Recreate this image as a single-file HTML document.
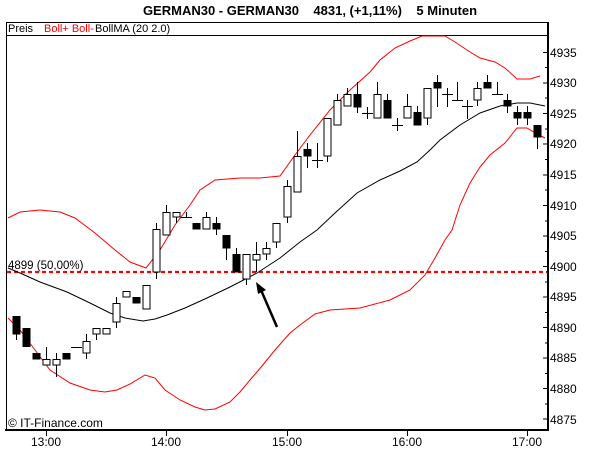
<!DOCTYPE html>
<html><head><meta charset="utf-8"><style>
html,body{margin:0;padding:0;background:#fff;width:600px;height:450px;overflow:hidden}
svg text{font-family:"Liberation Sans","DejaVu Sans",sans-serif}
</style></head><body>
<svg width="600" height="450" viewBox="0 0 600 450" xmlns="http://www.w3.org/2000/svg">
<text x="310" y="15" text-anchor="middle" font-size="13" font-weight="bold" xml:space="preserve">GERMAN30 - GERMAN30    4831, (+1,11%)    5 Minuten</text>
<!-- frame -->
<line x1="6" y1="22.5" x2="548" y2="22.5" stroke="#000"/>
<line x1="6" y1="35.5" x2="548" y2="35.5" stroke="#000"/>
<line x1="6.5" y1="22" x2="6.5" y2="431" stroke="#000"/>
<line x1="5" y1="430" x2="549" y2="430" stroke="#000" stroke-width="2"/>
<line x1="548" y1="22" x2="548" y2="431" stroke="#000" stroke-width="2"/>
<text x="8" y="32" font-size="11">Preis</text>
<text x="44" y="32" font-size="11" fill="#f00">Boll+ Boll-</text>
<text x="95" y="32" font-size="11">BollMA (20 2.0)</text>
<!-- y axis -->
<g font-size="12" fill="#000" stroke="none">
<text x="550" y="57">4935</text><text x="550" y="87">4930</text><text x="550" y="118">4925</text><text x="550" y="148">4920</text><text x="550" y="179">4915</text><text x="550" y="210">4910</text><text x="550" y="240">4905</text><text x="550" y="271">4900</text><text x="550" y="301">4895</text><text x="550" y="332">4890</text><text x="550" y="362">4885</text><text x="550" y="393">4880</text><text x="550" y="424">4875</text>
</g>
<g stroke="#000">
<path d="M543 52.5H548M543 83H548M543 113.5H548M543 144H548M543 175H548M543 205.5H548M543 236H548M543 266.5H548M543 297H548M543 327.5H548M543 358H548M543 388.5H548M543 419H548"/>
<path d="M545 67.5H548M545 98H548M545 129H548M545 159.5H548M545 190H548M545 221H548M545 251.5H548M545 282H548M545 312.5H548M545 343H548M545 373.5H548M545 404H548"/>
<path d="M46.5 430V436M166.5 430V436M287.5 430V436M407.5 430V436M527.5 430V436"/>
</g>
<g font-size="12" text-anchor="middle">
<text x="46" y="446">13:00</text><text x="166" y="446">14:00</text><text x="287" y="446">15:00</text><text x="407" y="446">16:00</text><text x="527" y="446">17:00</text>
</g>
<text x="8" y="427" font-size="12">© IT-Finance.com</text>
<!-- 4899 line -->
<line x1="7" y1="272" x2="547" y2="272" stroke="#f00" stroke-width="2.2" stroke-dasharray="4,3"/>
<text x="8" y="269" font-size="11.5">4899 (50,00%)</text>
<!-- bands -->
<g fill="none" stroke-width="1">
<polyline stroke="#f00" points="8,218 20,212 40,210 60,212 75,218 95,233 115,250 130,262 146,268 160,250 175,225 190,205 200,190 215,180 240,178 260,178 280,176 295,155 310,135 330,110 350,90 370,72 380,60 395,48 410,41 422,36 445,36 455,42 470,52 480,58 495,62 505,68 517,79 530,79 540,76"/>
<polyline stroke="#f00" points="8,318 20,330 35,350 50,370 70,383 90,390 105,392 117,390 130,384 145,375 155,378 165,390 180,400 195,407 205,410 215,409 230,402 240,392 250,380 262,366 275,350 290,333 300,325 315,314 330,310 360,308 390,300 410,290 425,275 435,258 445,240 452,230 460,205 470,183 480,167 490,155 505,143 517,128 527,128 537,134 545,138"/>
<polyline stroke="#000" points="8,268 20,273 40,282 67,292 90,303 110,313 125,318 143,321 155,319 167,315 185,308 207,298 230,287 257,273 280,258 300,242 317,230 335,213 357,193 380,180 400,171 417,162 430,150 440,140 460,125 480,113 500,106 517,103 530,103 545,106"/>
</g>
<!-- candles -->
<g stroke="#000" stroke-width="1">
<path d="M16.5 316V340M26.5 328V347M36.5 353V359M46.5 347V365M56.5 353V377M66.5 353V359M86.5 334V359M96.5 328V340M106.5 328V334M116.5 297V328M126.5 291V297M136.5 297V303M146.5 285V309M156.5 223V279M166.5 205V235M176.5 212V223M186.5 212V217M196.5 223V229M206.5 212V229M216.5 217V235M226.5 235V260M236.5 248V272M246.5 254V285M256.5 242V272M266.5 242V260M276.5 223V248M287.5 180V223M297.5 131V192M307.5 143V168M317.5 143V168M327.5 118V162M337.5 94V125M347.5 88V106M357.5 82V113M367.5 107V119M377.5 82V118M387.5 94V118M397.5 118V131M407.5 94V118M417.5 106V125M427.5 88V125M437.5 75V107M447.5 88V107M457.5 82V100M467.5 100V119M477.5 82V106M487.5 75V88M497.5 82V94M507.5 94V113M517.5 106V125M527.5 106V125M537.5 125V149"/>
<path d="M71 347.5H82M181 217.5H192M312 160.5H323M362 113.5H373M392 125.5H403M442 94.5H453M452 100.5H463M462 106.5H473M492 94.5H503"/>
</g>
<g fill="#000" stroke="#000">
<rect x="13" y="316.5" width="7" height="17.5"/><rect x="23" y="328.5" width="7" height="18"/><rect x="33" y="353.5" width="7" height="5.5"/><rect x="63" y="353.5" width="7" height="5.5"/><rect x="133" y="297.5" width="7" height="5.5"/><rect x="193" y="223.5" width="7" height="5.5"/><rect x="213" y="223.5" width="7" height="5.5"/><rect x="223" y="235.5" width="7" height="12.5"/><rect x="233" y="254.5" width="7" height="17.5"/><rect x="304" y="149.5" width="7" height="6.5"/><rect x="354" y="94.5" width="7" height="12.5"/><rect x="384" y="100.5" width="7" height="17.5"/><rect x="414" y="112.5" width="7" height="12.5"/><rect x="434" y="82.5" width="7" height="5.5"/><rect x="484" y="82.5" width="7" height="5.5"/><rect x="504" y="100.5" width="7" height="5.5"/><rect x="514" y="112.5" width="7" height="5.5"/><rect x="524" y="112.5" width="7" height="5.5"/><rect x="534" y="125.5" width="7" height="11.5"/>
</g>
<g fill="#fff" stroke="#000">
<rect x="43" y="359.5" width="7" height="5.5"/><rect x="53" y="359.5" width="7" height="5.5"/><rect x="83" y="341.5" width="7" height="11.5"/><rect x="93" y="328.5" width="7" height="5.5"/><rect x="103" y="328.5" width="7" height="5.5"/><rect x="113" y="303.5" width="7" height="18.5"/><rect x="123" y="291.5" width="7" height="5.5"/><rect x="143" y="285.5" width="7" height="23.5"/><rect x="153" y="229.5" width="7" height="42.5"/><rect x="163" y="212.5" width="7" height="22.5"/><rect x="173" y="212.5" width="7" height="4.5"/><rect x="203" y="217.5" width="7" height="11.5"/><rect x="243" y="254.5" width="7" height="24.5"/><rect x="253" y="254.5" width="7" height="5.5"/><rect x="263" y="248.5" width="7" height="5.5"/><rect x="273" y="223.5" width="7" height="18.5"/><rect x="284" y="186.5" width="7" height="30.5"/><rect x="294" y="156.5" width="7" height="35.5"/><rect x="324" y="118.5" width="7" height="37.5"/><rect x="334" y="100.5" width="7" height="24.5"/><rect x="344" y="94.5" width="7" height="11.5"/><rect x="374" y="94.5" width="7" height="23.5"/><rect x="404" y="106.5" width="7" height="11.5"/><rect x="424" y="88.5" width="7" height="29.5"/><rect x="474" y="88.5" width="7" height="11.5"/>
</g>
<!-- arrow -->
<line x1="277" y1="327" x2="261" y2="290" stroke="#000" stroke-width="2.5"/>
<polygon points="256,282 258,294 266,290" fill="#000"/>
</svg>
</body></html>
